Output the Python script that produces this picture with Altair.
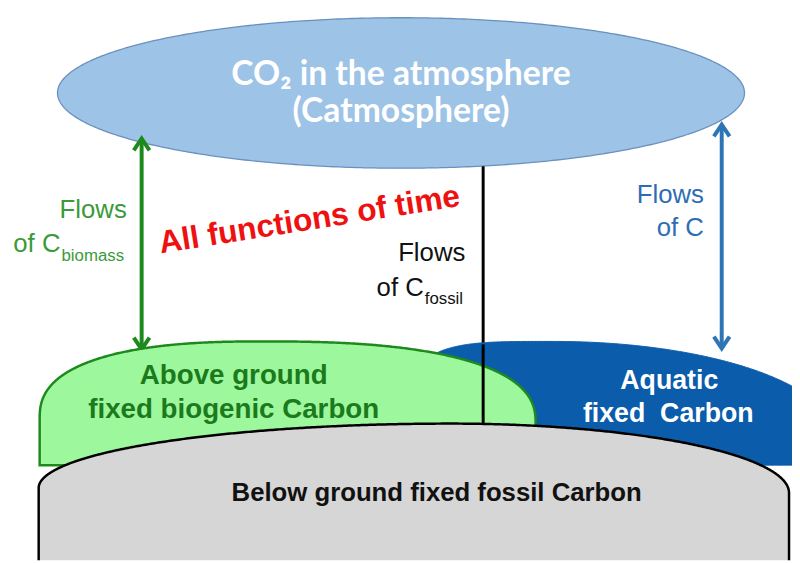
import altair as alt
import pandas as pd
import numpy as np

# ---------------- data (reference pixel coordinates) ----------------
# atmosphere ellipse: centre x, centre y, radius x, radius y
atm_ellipse = [405, 91, 347, 76]

# dome shapes: left x, peak x, right x, top y,
#              left shoulder y, right shoulder y, left exponent, right exponent, base y
green_dome = [40, 266, 541, 342, 420, 425, 2.5, 2.5, 467]
blue_dome = [410, 560, 845, 342, 440, 440, 4.0, 2.0, 467]
gray_dome = [39, 455, 797, 425, 490, 495, 2.0, 2.0, 580]

# arrows: x, top tip y, bottom tip y
green_arrow = [143, 137, 350]
blue_arrow = [729, 123, 349]
fossil_line = [488, 165, 426]

# texts
atm_texts = ["CO₂ in the atmosphere", "(Catmosphere)"]
atm_tx = [405, 405]
atm_ty = [83, 120]

ground_texts = ["Above ground", "fixed biogenic Carbon"]
ground_tx = [236, 236]
ground_ty = [385, 419]

aquatic_texts = ["Aquatic", "fixed \u00a0Carbon"]
aquatic_tx = [676, 675]
aquatic_ty = [390, 423]

below_text = ["Below ground fixed fossil Carbon"]
below_tx = [441]
below_ty = [503]

red_text = ["All functions of time"]
red_tx = [314]
red_ty = [229]

flows_green = ["Flows", "of C"]
flows_green_x = [128, 61]
flows_green_y = [217, 252]
sub_green = ["biomass"]
sub_green_x = [62]
sub_green_y = [261]

flows_black = ["Flows", "of C"]
flows_black_x = [470, 428]
flows_black_y = [261, 296]
sub_black = ["fossil"]
sub_black_x = [429]
sub_black_y = [304]

flows_blue = ["Flows", "of C"]
flows_blue_x = [711, 711]
flows_blue_y = [202, 235]

# ---------------- scales ----------------
XS = alt.Scale(domain=[8, 800], nice=False, zero=False)
YS = alt.Scale(domain=[8, 563], nice=False, zero=False, reverse=True)


def X(f="x"):
    return alt.X(f"{f}:Q", scale=XS, axis=None)


def Y(f="y"):
    return alt.Y(f"{f}:Q", scale=YS, axis=None)


def dome_points(spec):
    lx, px, rx_, top, lcy, rcy, nl, nr, base = spec
    th = np.linspace(0, np.pi / 2, 240)
    lr, lry = px - lx, lcy - top
    xl = px - lr * np.cos(th) ** (2 / nl)
    yl = lcy - lry * np.sin(th) ** (2 / nl)
    rr, rry = rx_ - px, rcy - top
    th2 = th[::-1][1:]
    xr = px + rr * np.cos(th2) ** (2 / nr)
    yr = rcy - rry * np.sin(th2) ** (2 / nr)
    xs = np.concatenate([[lx - 0.01], xl, xr, [rx_ + 0.01]])
    ys = np.concatenate([[base], yl, yr, [base]])
    return pd.DataFrame({"x": xs, "y": ys, "y2": base})


def dome_layer(spec, **mk):
    return alt.Chart(dome_points(spec)).mark_area(clip=True, **mk).encode(
        x=X(), y=Y(), y2="y2:Q"
    )


cx, cy, rx, ry = atm_ellipse
t = np.linspace(np.pi, 0, 241)
ell_df = pd.DataFrame({"x": cx + rx * np.cos(t),
                       "y": cy - ry * np.sin(t),
                       "y2": cy + ry * np.sin(t)})
ellipse = alt.Chart(ell_df).mark_area(
    fill="#9DC3E6", stroke="#6A90BE", strokeWidth=1.3
).encode(x=X(), y=Y(), y2="y2:Q")

blue_shape = dome_layer(blue_dome, fill="#0B5CAB", stroke="#0B5CAB", strokeWidth=1)
green_shape = dome_layer(green_dome, fill="#9DF79D", stroke="#1E8A1E", strokeWidth=2.5)
gray_shape = dome_layer(gray_dome, fill="#D6D6D6", stroke="#000000", strokeWidth=2.5)


def vline(spec, color, width):
    df = pd.DataFrame({"x": [spec[0]], "y": [spec[1]], "y2": [spec[2]]})
    return alt.Chart(df).mark_rule(color=color, strokeWidth=width).encode(
        x=X(), y=Y(), y2="y2:Q"
    )


def heads(spec, color):
    up = pd.DataFrame({"x": [spec[0]], "y": [spec[1]]})
    dn = pd.DataFrame({"x": [spec[0]], "y": [spec[2]]})
    a = alt.Chart(up).mark_point(
        shape="M -0.6 0.9 L 0 0 L 0.6 0.9", size=700, filled=False,
        stroke=color, strokeWidth=4, opacity=1
    ).encode(x=X(), y=Y())
    b = alt.Chart(dn).mark_point(
        shape="M -0.6 -0.9 L 0 0 L 0.6 -0.9", size=700, filled=False,
        stroke=color, strokeWidth=4, opacity=1
    ).encode(x=X(), y=Y())
    return a + b


def text_layer(texts, xs, ys, **mk):
    df = pd.DataFrame({"x": xs, "y": ys, "t": texts})
    return alt.Chart(df).mark_text(baseline="alphabetic", **mk).encode(
        x=X(), y=Y(), text="t:N"
    )


GREEN_ARROW = "#1C8A1C"
BLUE_ARROW = "#2E75B6"
ARIAL = "Liberation Sans"

layers = [
    ellipse,
    text_layer(atm_texts, atm_tx, atm_ty, font="Lato", fontWeight="bold",
               fontSize=34, color="white", align="center"),
    vline(fossil_line, "#000000", 3),
    vline(green_arrow, GREEN_ARROW, 4),
    heads(green_arrow, GREEN_ARROW),
    vline(blue_arrow, BLUE_ARROW, 4),
    heads(blue_arrow, BLUE_ARROW),
    blue_shape,
    green_shape,
    vline([fossil_line[0], 345, fossil_line[2]], "#000000", 3),
    gray_shape,
    text_layer(ground_texts, ground_tx, ground_ty, font=ARIAL, fontWeight="bold",
               fontSize=28, color="#1B7A1B", align="center"),
    text_layer(aquatic_texts, aquatic_tx, aquatic_ty, font=ARIAL, fontWeight="bold",
               fontSize=27, color="white", align="center"),
    text_layer(below_text, below_tx, below_ty, font=ARIAL, fontWeight="bold",
               fontSize=26, color="#111111", align="center"),
    text_layer(red_text, red_tx, red_ty, font=ARIAL, fontWeight="bold",
               fontSize=32, color="#EE1111", align="center", angle=351),
    text_layer(flows_green, flows_green_x, flows_green_y, font=ARIAL,
               fontSize=26, color="#3A9A3A", align="right"),
    text_layer(sub_green, sub_green_x, sub_green_y, font=ARIAL,
               fontSize=17, color="#3A9A3A", align="left"),
    text_layer(flows_black, flows_black_x, flows_black_y, font=ARIAL,
               fontSize=26, color="#111111", align="right"),
    text_layer(sub_black, sub_black_x, sub_black_y, font=ARIAL,
               fontSize=17, color="#111111", align="left"),
    text_layer(flows_blue, flows_blue_x, flows_blue_y, font=ARIAL,
               fontSize=26, color="#2E6DB4", align="right"),
]

chart = alt.layer(*layers).properties(
    width=792, height=555, autosize=alt.AutoSizeParams(type="none"), padding=0,
    background="white"
).configure_view(stroke=None)

chart.save("out.html", embed_options={"renderer": "svg", "actions": False})
